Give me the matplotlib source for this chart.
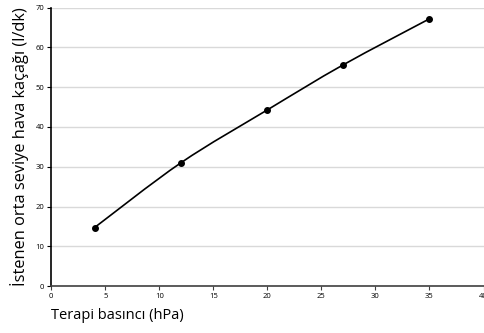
import matplotlib
matplotlib.use("Agg")
import matplotlib.pyplot as plt
from matplotlib.path import Path
from matplotlib.patches import PathPatch
import numpy as np

pressure = [4, 12, 20, 27, 35]
leak = [14.7, 31.0, 44.3, 55.6, 67.2]
x_ticks = [0, 5, 10, 15, 20, 25, 30, 35, 40]
y_ticks = [0, 10, 20, 30, 40, 50, 60, 70]

plt.rcParams['font.family'] = ['Open Sans', 'DejaVu Sans']

fig = plt.figure(figsize=(4.84, 3.33), dpi=100)
ax = fig.add_axes([0.106, 0.141, 0.893, 0.836])

# smoothed line (cubic Bezier, Catmull-Rom style) through the points
xs = np.array(pressure, float)
ys = np.array(leak, float)
verts = [(xs[0], ys[0])]
codes = [Path.MOVETO]
t = 1 / 6
for i in range(len(xs) - 1):
    p0 = (xs[i - 1], ys[i - 1]) if i > 0 else (xs[i], ys[i])
    p1 = (xs[i], ys[i])
    p2 = (xs[i + 1], ys[i + 1])
    p3 = (xs[i + 2], ys[i + 2]) if i + 2 < len(xs) else (xs[i + 1], ys[i + 1])
    c1 = (p1[0] + (p2[0] - p0[0]) * t, p1[1] + (p2[1] - p0[1]) * t)
    c2 = (p2[0] - (p3[0] - p1[0]) * t, p2[1] - (p3[1] - p1[1]) * t)
    verts += [c1, c2, p2]
    codes += [Path.CURVE4] * 3
ax.add_patch(PathPatch(Path(verts, codes), facecolor='none', edgecolor='black', lw=1.2, zorder=3))
ax.plot(pressure, leak, linestyle='none', marker='o', color='black', markersize=4, zorder=4)

ax.set_xlim(0, 40)
ax.set_ylim(0, 70)
ax.set_xticks(x_ticks)
ax.set_yticks(y_ticks)
ax.tick_params(labelsize=5.5, length=3, width=0.8, pad=2)
ax.tick_params(axis='x', colors='#404040', labelcolor='black')
ax.grid(axis='y', color='#d9d9d9', lw=1)
ax.set_axisbelow(True)
for s in ['top', 'right']:
    ax.spines[s].set_visible(False)
ax.spines['left'].set_color('black')
ax.spines['left'].set_linewidth(1.2)
ax.spines['bottom'].set_color('#404040')
ax.spines['bottom'].set_linewidth(1.2)

ax.set_xlabel('Terapi basıncı (hPa)', fontsize=10.5, loc='left', labelpad=6)
ax.set_ylabel('İstenen orta seviye hava kaçağı (l/dk)', fontsize=11.8, labelpad=5)

fig.savefig('out.png', dpi=100)
